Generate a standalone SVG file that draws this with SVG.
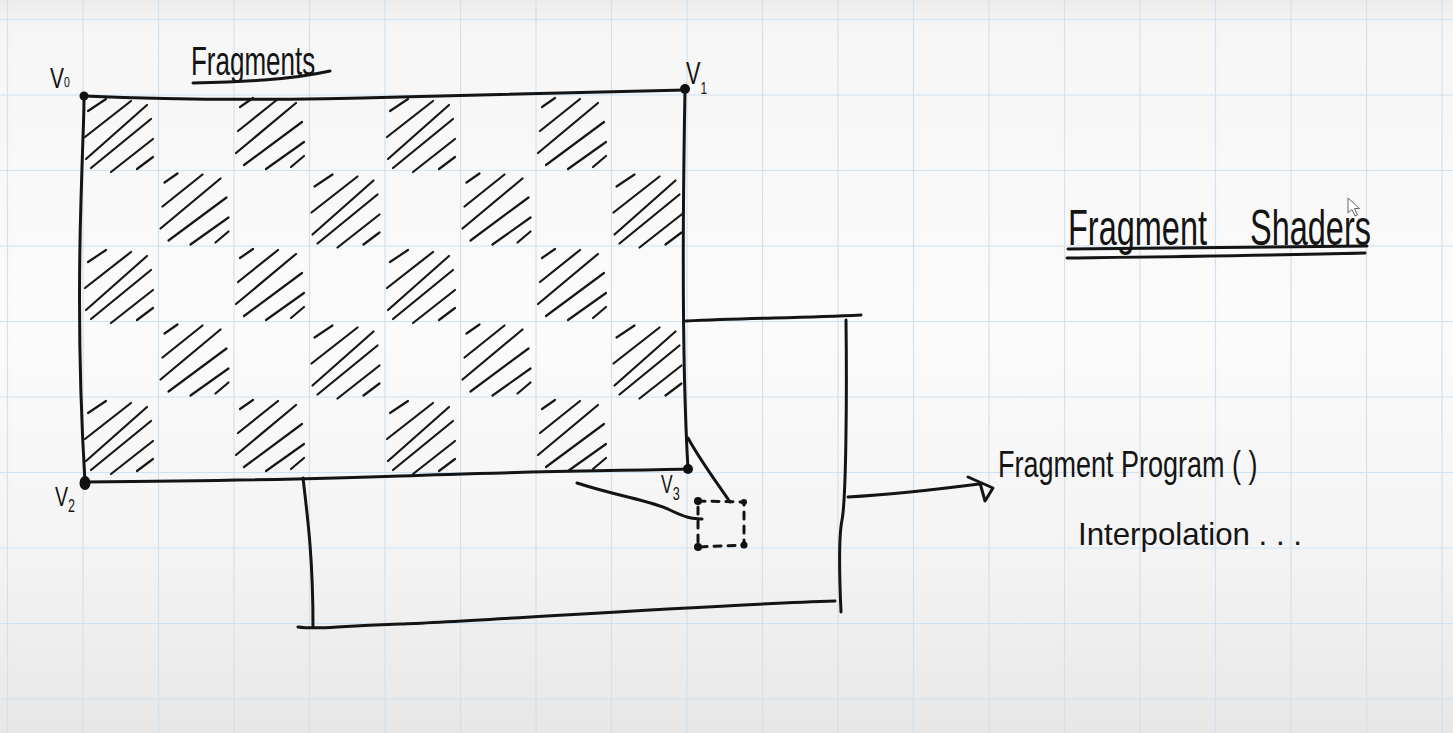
<svg xmlns="http://www.w3.org/2000/svg" xmlns:xlink="http://www.w3.org/1999/xlink" width="1453" height="733" viewBox="0 0 1453 733">
<style>
.ink{fill:none;stroke:#141414;stroke-width:3;stroke-linecap:round;stroke-linejoin:round}
.hatch{fill:none;stroke:#161616;stroke-width:2.2;stroke-linecap:round}
.grid{fill:none;stroke:#d0e2ef;stroke-width:1.2}
.hand{font-family:"Liberation Sans",Arial,sans-serif;fill:#141414}
.dot{fill:#111}
</style>
<defs>
<linearGradient id="bg" x1="0" y1="0" x2="0" y2="1">
<stop offset="0" stop-color="#ececec"/>
<stop offset="0.04" stop-color="#f6f6f6"/>
<stop offset="0.45" stop-color="#fbfbfb"/>
<stop offset="0.75" stop-color="#f4f4f4"/>
<stop offset="1" stop-color="#e7e7e7"/>
</linearGradient>
<g id="hA" class="hatch">
<path d="M5 16 L23 4"/><path d="M2 42 L48 6"/><path d="M3 64 L64 10"/><path d="M8 73 L68 24"/><path d="M28 77 L70 44"/><path d="M54 74 L70 62"/>
</g>
<g id="hB" class="hatch">
<path d="M6 12 L19 3"/><path d="M4 36 L44 4"/><path d="M2 58 L62 8"/><path d="M10 70 L68 27"/><path d="M32 74 L70 47"/><path d="M57 72 L70 61"/>
</g>
</defs>
<rect width="1453" height="733" fill="url(#bg)"/>
<g id="grid" class="grid">
<path d="M7.5 0V733M83 0V733M158.5 0V733M234 0V733M309.5 0V733M385 0V733M460.5 0V733M536 0V733M611.5 0V733M687 0V733M762.5 0V733M838 0V733M913.5 0V733M989 0V733M1064.5 0V733M1140 0V733M1215.5 0V733M1291 0V733M1366.5 0V733M1442 0V733"/>
<path d="M0 19.5H1453M0 95H1453M0 170.5H1453M0 246H1453M0 321.5H1453M0 397H1453M0 472.5H1453M0 548H1453M0 623.5H1453M0 699H1453"/>
</g>
<g id="fragments-hatching">
<use xlink:href="#hA" x="83" y="95"/><use xlink:href="#hB" x="234" y="95"/><use xlink:href="#hA" x="385" y="95"/><use xlink:href="#hB" x="536" y="95"/>
<use xlink:href="#hB" x="158.5" y="170.5"/><use xlink:href="#hA" x="309.5" y="170.5"/><use xlink:href="#hB" x="460.5" y="170.5"/><use xlink:href="#hA" x="611.5" y="170.5"/>
<use xlink:href="#hA" x="83" y="246"/><use xlink:href="#hB" x="234" y="246"/><use xlink:href="#hA" x="385" y="246"/><use xlink:href="#hB" x="536" y="246"/>
<use xlink:href="#hB" x="158.5" y="321.5"/><use xlink:href="#hA" x="309.5" y="321.5"/><use xlink:href="#hB" x="460.5" y="321.5"/><use xlink:href="#hA" x="611.5" y="321.5"/>
<use xlink:href="#hA" x="83" y="397"/><use xlink:href="#hB" x="234" y="397"/><use xlink:href="#hA" x="385" y="397"/><use xlink:href="#hB" x="536" y="397"/>
</g>
<g id="quad">
<path class="ink" d="M84 96 C200 101 300 100 400 97 S600 92 685 90"/>
<path class="ink" d="M685 90 C683 200 681 350 688 469"/>
<path class="ink" d="M688 469 C600 471 500 472 400 476 S200 481 85 482"/>
<path class="ink" d="M85 482 C80 400 78 300 81 200 S84 120 84 96"/>
<circle class="dot" cx="84" cy="96" r="4.5"/>
<circle class="dot" cx="685" cy="89" r="5"/>
<ellipse class="dot" cx="85" cy="483" rx="5.5" ry="7"/>
<circle class="dot" cx="688" cy="469" r="5"/>
</g>
<g id="vertex-labels" class="hand">
<text transform="translate(50 88) scale(0.7 1)" font-size="30">V<tspan font-size="15" dy="-1">0</tspan></text>
<text transform="translate(686 84) scale(0.7 1)" font-size="31">V<tspan font-size="17" dy="10">1</tspan></text>
<text transform="translate(55 506) scale(0.7 1)" font-size="28">V<tspan font-size="18" dy="6">2</tspan></text>
<text transform="translate(661 493) scale(0.7 1)" font-size="25">V<tspan font-size="18" dy="7">3</tspan></text>
</g>
<g id="zoom-box">
<path class="ink" d="M686 321 C750 318 800 318 861 315"/>
<path class="ink" d="M846 320 C847 400 846 500 842 520 S840 590 841 612"/>
<path class="ink" d="M298 627 C320 630 330 626 400 624 S700 605 835 601"/>
<path class="ink" d="M303 478 C308 520 313 560 313 627"/>
</g>
<g id="fragment-sample">
<path class="ink" stroke-width="2.2" stroke-dasharray="7 7" d="M698 501 L744 502 L744 545 L698 547 Z"/>
<circle class="dot" cx="698" cy="501" r="4"/>
<circle class="dot" cx="744" cy="502" r="3"/>
<circle class="dot" cx="698" cy="547" r="4"/>
<circle class="dot" cx="744" cy="545" r="3.5"/>
</g>
<g id="connectors">
<path class="ink" stroke-width="2.5" d="M688 438 C700 460 715 480 730 502"/>
<path class="ink" stroke-width="2.5" d="M577 483 C620 497 650 500 670 510 S695 518 702 519"/>
<path class="ink" stroke-width="2.5" d="M848 497 C900 494 940 489 979 484"/>
<path class="ink" stroke-width="2.5" d="M968 477 L993 488 L985 501 L980 483"/>
</g>
<g id="title-fragments">
<text class="hand" transform="translate(191 75) scale(0.65 1)" font-size="40">Fragments</text>
<path class="ink" stroke-width="2.5" d="M193 83 C240 82 290 80 330 71"/>
</g>
<g id="title-fragment-shaders">
<text class="hand" transform="translate(1068 245) scale(0.65 1)" font-size="50">Fragment <tspan x="280">Shaders</tspan></text>
<path class="ink" stroke-width="2.5" d="M1068 249 C1150 248 1250 247 1367 246"/>
<path class="ink" stroke-width="2.5" d="M1067 258 C1150 257 1250 256 1365 253"/>
</g>
<g id="fragment-program">
<text class="hand" transform="translate(998 477) scale(0.75 1)" font-size="36">Fragment Program ( )</text>
</g>
<g id="interpolation">
<text class="hand" x="1078" y="545" font-size="32" textLength="224" lengthAdjust="spacingAndGlyphs">Interpolation . . .</text>
</g>
<g id="cursor">
<path d="M1348 198 L1348 213 L1352 209.5 L1355 216 L1357.5 215 L1354.5 208.5 L1359.5 208.5 Z" fill="#fdfdfd" stroke="#666" stroke-width="1"/>
</g>
</svg>
